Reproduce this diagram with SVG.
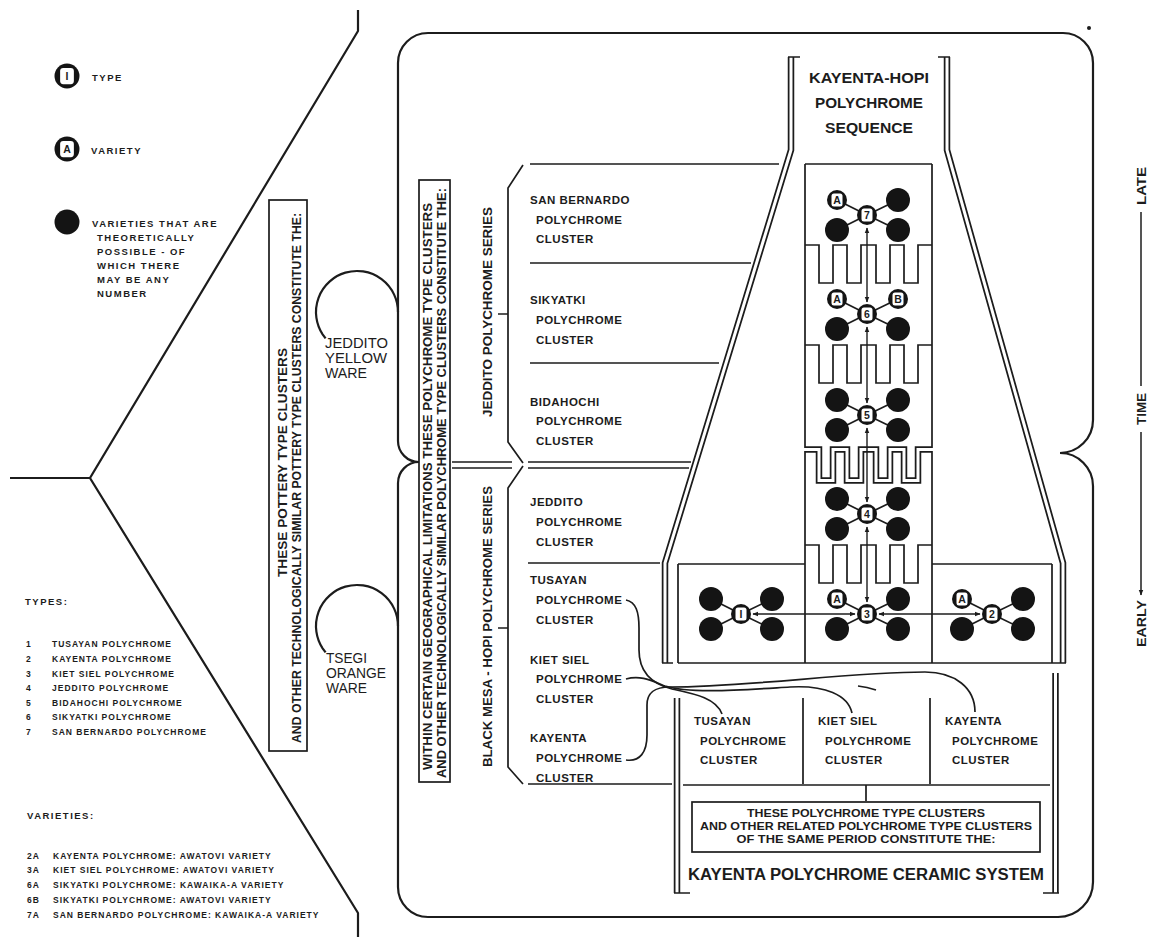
<svg xmlns="http://www.w3.org/2000/svg" width="1151" height="937" viewBox="0 0 1151 937">
<defs>
<style>
.ln{fill:none;stroke:#1c1c1c;stroke-width:1.7}
.fr{fill:none;stroke:#1c1c1c;stroke-width:2.2}
.dbl{fill:none;stroke:#1c1c1c;stroke-width:6.5;stroke-linejoin:miter}
.dblw{fill:none;stroke:#fff;stroke-width:3;stroke-linejoin:miter}
.t{font-family:"Liberation Sans",Arial,sans-serif;font-weight:bold;fill:#1c1c1c}
.leg{font-size:9.5px;letter-spacing:1.5px}
.lst{font-size:8.5px;letter-spacing:1px}
.cl{font-size:11.5px;letter-spacing:0.5px}
.vt{font-size:12px}
.nt{font-size:10.5px;text-anchor:middle}
.big{font-family:"Liberation Sans",Arial,sans-serif;font-size:15px;fill:#1c1c1c}
.sys{font-size:10.5px;text-anchor:middle}
.ttl{font-size:14.5px;text-anchor:middle}
</style>
<marker id="ah" viewBox="0 0 10 10" refX="9" refY="5" markerWidth="6" markerHeight="6" orient="auto-start-reverse" markerUnits="userSpaceOnUse"><path d="M0,1 L10,5 L0,9 z" fill="#1c1c1c"/></marker>
<g id="tn"><circle r="10" fill="#141414"/><rect x="-5.5" y="-6.5" width="11" height="13" rx="2.5" fill="#fff"/></g>
<circle id="fd" r="12" fill="#141414"/>
</defs>
<rect width="1151" height="937" fill="#fff"/>

<!-- left chevron -->
<g id="chevron">
<path class="fr" d="M358 10 L358 31 L90 478 L358 913 L358 937 M10 478 L90 478"/>
</g>

<!-- legend -->
<g id="legend-type">
<use href="#tn" transform="translate(67,76) scale(1.25)"/>
<text class="t nt" x="67" y="80">I</text>
<text class="t leg" x="92" y="81">TYPE</text>
</g>
<g id="legend-variety">
<use href="#tn" transform="translate(67,149) scale(1.25)"/>
<text class="t nt" x="67" y="153">A</text>
<text class="t leg" x="91" y="154">VARIETY</text>
</g>
<g id="legend-possible">
<circle cx="67" cy="222" r="12.5" fill="#141414"/>
<text class="t leg" x="92" y="227">VARIETIES THAT ARE</text>
<text class="t leg" x="97" y="241">THEORETICALLY</text>
<text class="t leg" x="97" y="255">POSSIBLE - OF</text>
<text class="t leg" x="97" y="269">WHICH THERE</text>
<text class="t leg" x="97" y="283">MAY BE ANY</text>
<text class="t leg" x="97" y="297">NUMBER</text>
</g>
<g id="legend-types">
<text class="t leg" x="25" y="605">TYPES:</text>
<text class="t lst" x="26" y="647">1</text><text class="t lst" x="52" y="647">TUSAYAN POLYCHROME</text>
<text class="t lst" x="26" y="662">2</text><text class="t lst" x="52" y="662">KAYENTA POLYCHROME</text>
<text class="t lst" x="26" y="677">3</text><text class="t lst" x="52" y="677">KIET SIEL POLYCHROME</text>
<text class="t lst" x="26" y="691">4</text><text class="t lst" x="52" y="691">JEDDITO POLYCHROME</text>
<text class="t lst" x="26" y="706">5</text><text class="t lst" x="52" y="706">BIDAHOCHI POLYCHROME</text>
<text class="t lst" x="26" y="720">6</text><text class="t lst" x="52" y="720">SIKYATKI POLYCHROME</text>
<text class="t lst" x="26" y="735">7</text><text class="t lst" x="52" y="735">SAN BERNARDO POLYCHROME</text>
</g>
<g id="legend-varieties">
<text class="t leg" x="27" y="819">VARIETIES:</text>
<text class="t lst" x="27" y="859">2A</text><text class="t lst" x="53" y="859">KAYENTA POLYCHROME: AWATOVI VARIETY</text>
<text class="t lst" x="27" y="873">3A</text><text class="t lst" x="53" y="873">KIET SIEL POLYCHROME: AWATOVI VARIETY</text>
<text class="t lst" x="27" y="888">6A</text><text class="t lst" x="53" y="888">SIKYATKI POLYCHROME: KAWAIKA-A VARIETY</text>
<text class="t lst" x="27" y="903">6B</text><text class="t lst" x="53" y="903">SIKYATKI POLYCHROME: AWATOVI VARIETY</text>
<text class="t lst" x="27" y="918">7A</text><text class="t lst" x="53" y="918">SAN BERNARDO POLYCHROME: KAWAIKA-A VARIETY</text>
</g>

<!-- vertical box 1 -->
<g id="box-pottery">
<rect class="ln" x="269" y="200" width="38" height="551"/>
<text class="t vt" transform="translate(287,577) rotate(-90)" textLength="229" lengthAdjust="spacingAndGlyphs">THESE POTTERY TYPE CLUSTERS</text>
<text class="t vt" transform="translate(301,743) rotate(-90)" textLength="530" lengthAdjust="spacingAndGlyphs">AND OTHER TECHNOLOGICALLY SIMILAR POTTERY TYPE CLUSTERS CONSTITUTE THE:</text>
</g>

<!-- frames -->
<g id="frame-jeddito-ware">
<path class="fr" d="M419 462 A21 21 0 0 1 398 441 V63 A30 30 0 0 1 428 33 H1063 A30 30 0 0 1 1093 63 V420 A33 33 0 0 1 1060 453"/>
<path class="fr" d="M398 312 A41 41 0 1 0 322.6 334.3 l3 4"/>
<text class="big" x="325" y="348" textLength="63" lengthAdjust="spacingAndGlyphs">JEDDITO</text>
<text class="big" x="325" y="363" textLength="62" lengthAdjust="spacingAndGlyphs">YELLOW</text>
<text class="big" x="325" y="378" textLength="42" lengthAdjust="spacingAndGlyphs">WARE</text>
</g>
<g id="frame-tsegi-ware">
<path class="fr" d="M1060 453 A33 33 0 0 1 1093 486 V882 A35 35 0 0 1 1058 917 H428 A30 30 0 0 1 398 887 V483 A21 21 0 0 1 419 462"/>
<path class="fr" d="M398 626 A41 41 0 1 0 322.6 648.3 l3 4"/>
<text class="big" x="326" y="663" textLength="41" lengthAdjust="spacingAndGlyphs">TSEGI</text>
<text class="big" x="326" y="678" textLength="60" lengthAdjust="spacingAndGlyphs">ORANGE</text>
<text class="big" x="326" y="693" textLength="41" lengthAdjust="spacingAndGlyphs">WARE</text>
</g>
<circle cx="1089" cy="28" r="2" fill="#1c1c1c"/>

<!-- vertical box 2 -->
<g id="box-polychrome">
<rect class="ln" x="419" y="180" width="31" height="602"/>
<text class="t vt" transform="translate(432,770) rotate(-90)" textLength="567" lengthAdjust="spacingAndGlyphs">WITHIN CERTAIN GEOGRAPHICAL LIMITATIONS THESE POLYCHROME TYPE CLUSTERS</text>
<text class="t vt" transform="translate(446,778) rotate(-90)" textLength="590" lengthAdjust="spacingAndGlyphs">AND OTHER TECHNOLOGICALLY SIMILAR POLYCHROME TYPE CLUSTERS CONSTITUTE THE:</text>
</g>

<!-- series -->
<g id="series-jeddito">
<path class="ln" d="M523 165 L508 188 L508 442 L523 463 M498 314 H508"/>
<text class="t vt" transform="translate(492,417) rotate(-90)" textLength="210" lengthAdjust="spacingAndGlyphs">JEDDITO POLYCHROME SERIES</text>
</g>
<g id="series-blackmesa">
<path class="ln" d="M523 466 L508 488 L508 767 L523 784 M498 628 H508"/>
<text class="t vt" transform="translate(492,767) rotate(-90)" textLength="281" lengthAdjust="spacingAndGlyphs">BLACK MESA - HOPI POLYCHROME SERIES</text>
</g>

<!-- separators -->
<g id="separators">
<path class="ln" d="M530 164 H779 M530 263 H751 M530 363 H719 M452 462 H512 M528 462 H691 M452 468 H512 M528 468 H689 M528 563 H660 M528 784 H672"/>
</g>

<!-- cluster labels left -->
<g id="lbl-sanbernardo"><text class="t cl" x="530" y="204">SAN BERNARDO</text><text class="t cl" x="536" y="224">POLYCHROME</text><text class="t cl" x="536" y="243">CLUSTER</text></g>
<g id="lbl-sikyatki"><text class="t cl" x="530" y="304">SIKYATKI</text><text class="t cl" x="536" y="324">POLYCHROME</text><text class="t cl" x="536" y="344">CLUSTER</text></g>
<g id="lbl-bidahochi"><text class="t cl" x="530" y="406">BIDAHOCHI</text><text class="t cl" x="536" y="425">POLYCHROME</text><text class="t cl" x="536" y="445">CLUSTER</text></g>
<g id="lbl-jeddito"><text class="t cl" x="530" y="506">JEDDITO</text><text class="t cl" x="536" y="526">POLYCHROME</text><text class="t cl" x="536" y="546">CLUSTER</text></g>
<g id="lbl-tusayan"><text class="t cl" x="530" y="584">TUSAYAN</text><text class="t cl" x="536" y="604">POLYCHROME</text><text class="t cl" x="536" y="624">CLUSTER</text></g>
<g id="lbl-kietsiel"><text class="t cl" x="530" y="664">KIET SIEL</text><text class="t cl" x="536" y="683">POLYCHROME</text><text class="t cl" x="536" y="703">CLUSTER</text></g>
<g id="lbl-kayenta"><text class="t cl" x="530" y="742">KAYENTA</text><text class="t cl" x="536" y="762">POLYCHROME</text><text class="t cl" x="536" y="782">CLUSTER</text></g>

<!-- sequence funnel -->
<g id="sequence">
<path class="dbl" d="M791 57 L791 150 L665 563 L665 663"/>
<path class="dblw" d="M791 56 L791 150 L665 563 L665 664"/>
<path class="dbl" d="M947 57 L947 150 L1063 563 L1063 663"/>
<path class="dblw" d="M947 56 L947 150 L1063 563 L1063 664"/>
<path class="ln" d="M788 57 H800 M938 57 H950 M662 663 H673 M1052 663 H1066"/>
<text class="t ttl" x="869" y="83" textLength="120" lengthAdjust="spacingAndGlyphs">KAYENTA-HOPI</text>
<text class="t ttl" x="869" y="108" textLength="108" lengthAdjust="spacingAndGlyphs">POLYCHROME</text>
<text class="t ttl" x="869" y="133" textLength="88" lengthAdjust="spacingAndGlyphs">SEQUENCE</text>
<path class="ln" d="M805 164 H932 M805 164 V663 M932 164 V663 M678 564 H805 M932 564 H1052 M678 663 H1052 M678 564 V663 M1052 564 V663"/>
<path class="ln" d="M805 245 H819 V283 H833 V245 H847 V283 H861 V245 H876 V283 H890 V245 H904 V283 H918 V245 H932"/>
<path class="ln" d="M805 345 H819 V383 H833 V345 H847 V383 H861 V345 H876 V383 H890 V345 H904 V383 H918 V345 H932"/>
<path class="dbl" d="M805 449.5 H819 V480.5 H833 V449.5 H847 V480.5 H861 V449.5 H876 V480.5 H890 V449.5 H904 V480.5 H918 V449.5 H932"/>
<path class="dblw" d="M804 449.5 H819 V480.5 H833 V449.5 H847 V480.5 H861 V449.5 H876 V480.5 H890 V449.5 H904 V480.5 H918 V449.5 H933"/>
<path class="ln" d="M805 545 H819 V583 H833 V545 H847 V583 H861 V545 H876 V583 H890 V545 H904 V583 H918 V545 H932"/>
</g>

<!-- connectors -->
<g id="connectors">
<path class="ln" d="M867 215 L837 200 M867 215 L898 200 M867 215 L837 230 M867 215 L898 230"/>
<path class="ln" d="M867 314 L837 299 M867 314 L898 299 M867 314 L837 329 M867 314 L898 329"/>
<path class="ln" d="M867 415 L837 400 M867 415 L898 400 M867 415 L837 430 M867 415 L898 430"/>
<path class="ln" d="M867 514 L837 499 M867 514 L898 499 M867 514 L837 529 M867 514 L898 529"/>
<path class="ln" d="M867 614 L837 599 M867 614 L898 599 M867 614 L837 629 M867 614 L898 629"/>
<path class="ln" d="M741 614 L711 599 M741 614 L772 599 M741 614 L711 629 M741 614 L772 629"/>
<path class="ln" d="M992 614 L962 599 M992 614 L1023 599 M992 614 L962 629 M992 614 L1023 629"/>
<g stroke="#1c1c1c" stroke-width="1.4" fill="none" marker-start="url(#ah)" marker-end="url(#ah)">
<line x1="867" y1="228" x2="867" y2="302"/>
<line x1="867" y1="327" x2="867" y2="403"/>
<line x1="867" y1="428" x2="867" y2="502"/>
<line x1="867" y1="527" x2="867" y2="602"/>
<line x1="753" y1="614" x2="855" y2="614"/>
<line x1="879" y1="614" x2="980" y2="614"/>
</g>
<path class="ln" d="M626 600 C636 602 639 612 639 628 L639 650 C639 672 652 684 672 689 C695 694 716 698 722 714"/>
<path class="ln" d="M626 679 C640 675 650 680 665 686 C690 694 740 690 790 687 C825 685 848 695 852 713"/>
<path class="ln" d="M626 760 C640 762 647 752 647 735 L647 705 C647 692 655 687 670 687 C750 687 850 672 925 672 C955 672 975 688 975 712"/>
<path class="ln" d="M858 686 Q867 687 876 690"/>
</g>

<!-- clusters -->
<g id="cluster-7">
<use href="#tn" x="837" y="200"/><text class="t nt" x="837" y="204">A</text>
<use href="#fd" x="898" y="200"/><use href="#fd" x="837" y="230"/><use href="#fd" x="898" y="230"/>
<use href="#tn" x="867" y="215"/><text class="t nt" x="867" y="219">7</text>
</g>
<g id="cluster-6">
<use href="#tn" x="837" y="299"/><text class="t nt" x="837" y="303">A</text>
<use href="#tn" x="898" y="299"/><text class="t nt" x="898" y="303">B</text>
<use href="#fd" x="837" y="329"/><use href="#fd" x="898" y="329"/>
<use href="#tn" x="867" y="314"/><text class="t nt" x="867" y="318">6</text>
</g>
<g id="cluster-5">
<use href="#fd" x="837" y="400"/><use href="#fd" x="898" y="400"/><use href="#fd" x="837" y="430"/><use href="#fd" x="898" y="430"/>
<use href="#tn" x="867" y="415"/><text class="t nt" x="867" y="419">5</text>
</g>
<g id="cluster-4">
<use href="#fd" x="837" y="499"/><use href="#fd" x="898" y="499"/><use href="#fd" x="837" y="529"/><use href="#fd" x="898" y="529"/>
<use href="#tn" x="867" y="514"/><text class="t nt" x="867" y="518">4</text>
</g>
<g id="cluster-3">
<use href="#tn" x="837" y="599"/><text class="t nt" x="837" y="603">A</text>
<use href="#fd" x="898" y="599"/><use href="#fd" x="837" y="629"/><use href="#fd" x="898" y="629"/>
<use href="#tn" x="867" y="614"/><text class="t nt" x="867" y="618">3</text>
</g>
<g id="cluster-1">
<use href="#fd" x="711" y="599"/><use href="#fd" x="772" y="599"/><use href="#fd" x="711" y="629"/><use href="#fd" x="772" y="629"/>
<use href="#tn" x="741" y="614"/><text class="t nt" x="741" y="618">I</text>
</g>
<g id="cluster-2">
<use href="#tn" x="962" y="599"/><text class="t nt" x="962" y="603">A</text>
<use href="#fd" x="1023" y="599"/><use href="#fd" x="962" y="629"/><use href="#fd" x="1023" y="629"/>
<use href="#tn" x="992" y="614"/><text class="t nt" x="992" y="618">2</text>
</g>

<!-- ceramic system -->
<g id="system">
<path class="dbl" d="M677 698 V893"/><path class="dblw" d="M677 697 V894"/>
<path class="dbl" d="M1055.5 673 V893"/><path class="dblw" d="M1055.5 672 V894"/>
<path class="ln" d="M674 893 H690 M1043 893 H1059 M803 698 V784 M930 698 V784 M683 785 H1050 M866 785 V801"/>
<rect class="ln" x="692" y="802" width="348" height="50"/>
<text class="t cl" x="694" y="725">TUSAYAN</text><text class="t cl" x="700" y="745">POLYCHROME</text><text class="t cl" x="700" y="764">CLUSTER</text>
<text class="t cl" x="818" y="725">KIET SIEL</text><text class="t cl" x="825" y="745">POLYCHROME</text><text class="t cl" x="825" y="764">CLUSTER</text>
<text class="t cl" x="945" y="725">KAYENTA</text><text class="t cl" x="952" y="745">POLYCHROME</text><text class="t cl" x="952" y="764">CLUSTER</text>
<text class="t sys" x="866" y="817" textLength="238" lengthAdjust="spacingAndGlyphs">THESE POLYCHROME TYPE CLUSTERS</text>
<text class="t sys" x="866" y="830" textLength="332" lengthAdjust="spacingAndGlyphs">AND OTHER RELATED POLYCHROME TYPE CLUSTERS</text>
<text class="t sys" x="866" y="843" textLength="259" lengthAdjust="spacingAndGlyphs">OF THE SAME PERIOD CONSTITUTE THE:</text>
<text class="t" x="866" y="880" font-size="16" text-anchor="middle" textLength="356" lengthAdjust="spacingAndGlyphs">KAYENTA POLYCHROME CERAMIC SYSTEM</text>
</g>

<!-- time axis -->
<g id="time-axis">
<text class="t" font-size="12.5" transform="translate(1146,205) rotate(-90)" textLength="38" lengthAdjust="spacingAndGlyphs">LATE</text>
<text class="t" font-size="12.5" transform="translate(1146,425) rotate(-90)" textLength="32" lengthAdjust="spacingAndGlyphs">TIME</text>
<text class="t" font-size="12.5" transform="translate(1146,647) rotate(-90)" textLength="47" lengthAdjust="spacingAndGlyphs">EARLY</text>
<line x1="1141" y1="212" x2="1141" y2="386" stroke="#1c1c1c" stroke-width="1.5"/>
<line x1="1141" y1="432" x2="1141" y2="595" stroke="#1c1c1c" stroke-width="1.5" marker-end="url(#ah)"/>
</g>
</svg>
